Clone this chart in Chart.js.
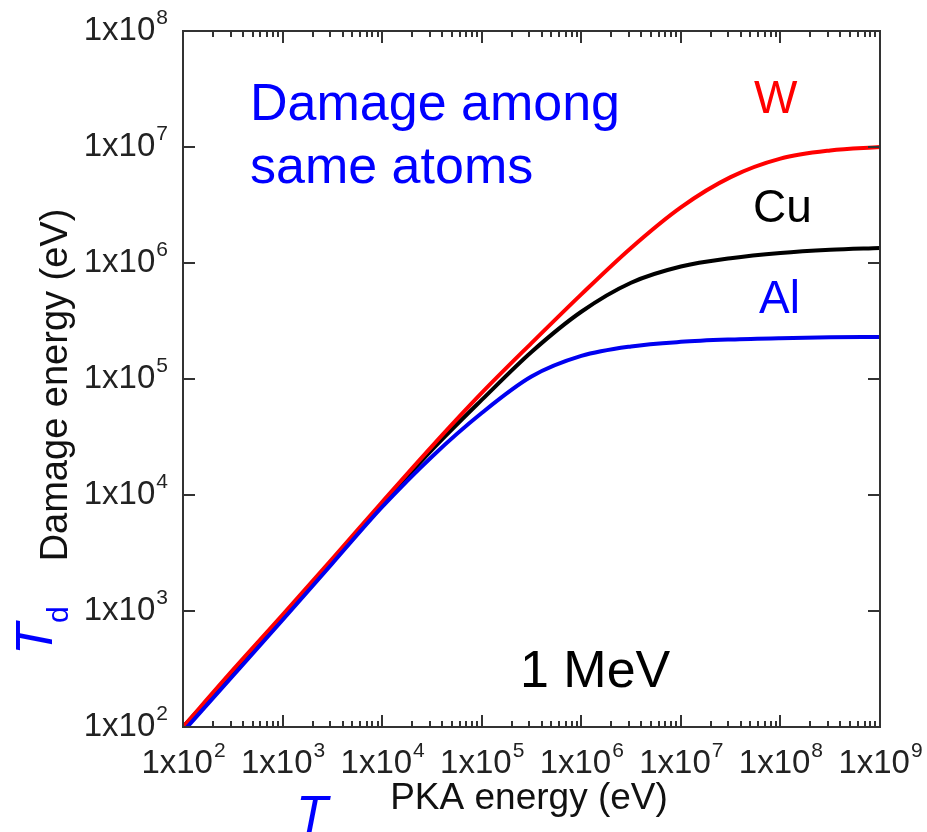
<!DOCTYPE html>
<html>
<head>
<meta charset="utf-8">
<script src="https://cdn.jsdelivr.net/npm/chart.js@4.4.1/dist/chart.umd.min.js"></script>
<style>
  html, body { margin: 0; padding: 0; background: #fff; }
  #wrap { width: 927px; height: 832px; }
</style>
</head>
<body>
<div id="wrap"><canvas id="damageChart" width="927" height="832"></canvas></div>
<script>
// PKA energy grid (eV), half-decade steps
const pkaEnergy = [1e2, 3.16e2, 1e3, 3.16e3, 1e4, 3.16e4, 1e5, 3.16e5, 1e6, 3.16e6, 1e7, 3.16e7, 1e8, 3.16e8, 1e9];

// damage energy (eV) for each target
const damageW  = [100, 309, 925, 2820, 8700, 26300, 75900, 204000, 537000, 1350000, 3020000, 5500000, 7940000, 9330000, 10000000];
const damageCu = [100, 295, 891, 2750, 8320, 24500, 66000, 171000, 380000, 676000, 933000, 1100000, 1220000, 1300000, 1350000];
const damageAl = [91, 275, 836, 2570, 7890, 21400, 50900, 105000, 158000, 191000, 209000, 219000, 225000, 229000, 230000];

const xDecades = [2, 3, 4, 5, 6, 7, 8, 9];
const yDecades = [2, 3, 4, 5, 6, 7, 8];

const BLUE = "#0000ff";
const AXIS = "#333333";
const FONT = "'Liberation Sans', Arial, Helvetica, sans-serif";

function pairs(ys) {
  return pkaEnergy.map((x, i) => ({ x: x, y: ys[i] }));
}

// "1x10" with a raised exponent
function drawPower(ctx, exp, x, y, align) {
  const base = "1x10";
  const sup = String(exp);
  ctx.font = "33px " + FONT;
  const wb = ctx.measureText(base).width;
  ctx.font = "21px " + FONT;
  const ws = ctx.measureText(sup).width;
  let left = x;
  if (align === "center") left = x - (wb + ws) / 2;
  if (align === "right") left = x - (wb + ws);
  ctx.textAlign = "left";
  ctx.textBaseline = "alphabetic";
  ctx.font = "33px " + FONT;
  ctx.fillText(base, left, y);
  ctx.font = "21px " + FONT;
  ctx.fillText(sup, left + wb + 1, y - 16);
}

const frameAndLabels = {
  id: "frameAndLabels",
  afterDraw(chart) {
    const ctx = chart.ctx;
    const a = chart.chartArea;
    const xs = chart.scales.x;
    const ys = chart.scales.y;
    ctx.save();

    // frame
    ctx.strokeStyle = AXIS;
    ctx.lineWidth = 2;
    ctx.strokeRect(a.left, a.top, a.right - a.left, a.bottom - a.top);

    // x ticks (major + minor), bottom and top, pointing inward
    ctx.beginPath();
    xDecades.forEach(d => {
      for (let m = 1; m <= 9; m++) {
        if (d === 9 && m > 1) break;
        const px = Math.round(xs.getPixelForValue(m * Math.pow(10, d)));
        const len = m === 1 ? 12 : 6;
        ctx.moveTo(px, a.bottom);
        ctx.lineTo(px, a.bottom - len);
        ctx.moveTo(px, a.top);
        ctx.lineTo(px, a.top + len);
      }
    });
    // y ticks, left and right
    yDecades.forEach(d => {
      const py = Math.round(ys.getPixelForValue(Math.pow(10, d)));
      ctx.moveTo(a.left, py);
      ctx.lineTo(a.left + 12, py);
      ctx.moveTo(a.right, py);
      ctx.lineTo(a.right - 12, py);
    });
    ctx.stroke();

    // tick labels
    ctx.fillStyle = "#222";
    xDecades.forEach(d => {
      drawPower(ctx, d, xs.getPixelForValue(Math.pow(10, d)), a.bottom + 46, "center");
    });
    yDecades.forEach(d => {
      drawPower(ctx, d, 167, ys.getPixelForValue(Math.pow(10, d)) + 9, "right");
    });

    // axis titles
    ctx.fillStyle = "#111";
    ctx.font = "37px " + FONT;
    ctx.textAlign = "center";
    ctx.textBaseline = "alphabetic";
    ctx.fillText("PKA energy (eV)", 529, 809);

    ctx.save();
    ctx.translate(67, 385);
    ctx.rotate(-Math.PI / 2);
    ctx.font = "38px " + FONT;
    ctx.fillText("Damage energy (eV)", 0, 0);
    ctx.restore();

    // symbol labels
    ctx.fillStyle = BLUE;
    ctx.textAlign = "left";
    ctx.font = "italic 52px " + FONT;
    ctx.fillText("T", 296, 832);

    ctx.save();
    ctx.translate(52, 655);
    ctx.rotate(-Math.PI / 2);
    ctx.font = "italic 52px " + FONT;
    ctx.fillText("T", 0, 0);
    ctx.font = "30px " + FONT;
    ctx.fillText("d", 32, 16);
    ctx.restore();

    // annotations
    ctx.font = "52px " + FONT;
    ctx.fillStyle = BLUE;
    ctx.fillText("Damage among", 250, 120);
    ctx.fillText("same atoms", 250, 183);

    ctx.font = "46px " + FONT;
    ctx.fillStyle = "#ff0000";
    ctx.fillText("W", 754, 113);
    ctx.fillStyle = "#000";
    ctx.fillText("Cu", 753, 222);
    ctx.fillStyle = BLUE;
    ctx.fillText("Al", 759, 313);

    ctx.fillStyle = "#000";
    ctx.font = "52px " + FONT;
    ctx.fillText("1 MeV", 520, 687);

    ctx.restore();
  }
};

const ctx = document.getElementById("damageChart").getContext("2d");

const damageChart = new Chart(ctx, {
  type: "line",
  data: {
    datasets: [
      {
        label: "Al",
        data: pairs(damageAl),
        borderColor: "#0000f0",
        borderWidth: 4
      },
      {
        label: "W",
        data: pairs(damageW),
        borderColor: "#ff0000",
        borderWidth: 4
      },
      {
        label: "Cu",
        data: pairs(damageCu),
        borderColor: "#000000",
        borderWidth: 4
      }
    ]
  },
  options: {
    responsive: false,
    animation: false,
    layout: {
      padding: { left: 0, top: 31, right: 47, bottom: 0 }
    },
    elements: {
      point: { radius: 0 },
      line: { cubicInterpolationMode: "monotone", fill: false }
    },
    plugins: {
      legend: { display: false },
      tooltip: { enabled: false }
    },
    scales: {
      x: {
        type: "logarithmic",
        min: 1e2,
        max: 1e9,
        grid: { display: false },
        border: { display: false },
        ticks: { display: false },
        afterFit(scale) { scale.height = 105; }
      },
      y: {
        type: "logarithmic",
        min: 1e2,
        max: 1e8,
        grid: { display: false },
        border: { display: false },
        ticks: { display: false },
        afterFit(scale) { scale.width = 183; }
      }
    }
  },
  plugins: [frameAndLabels]
});
</script>
</body>
</html>
